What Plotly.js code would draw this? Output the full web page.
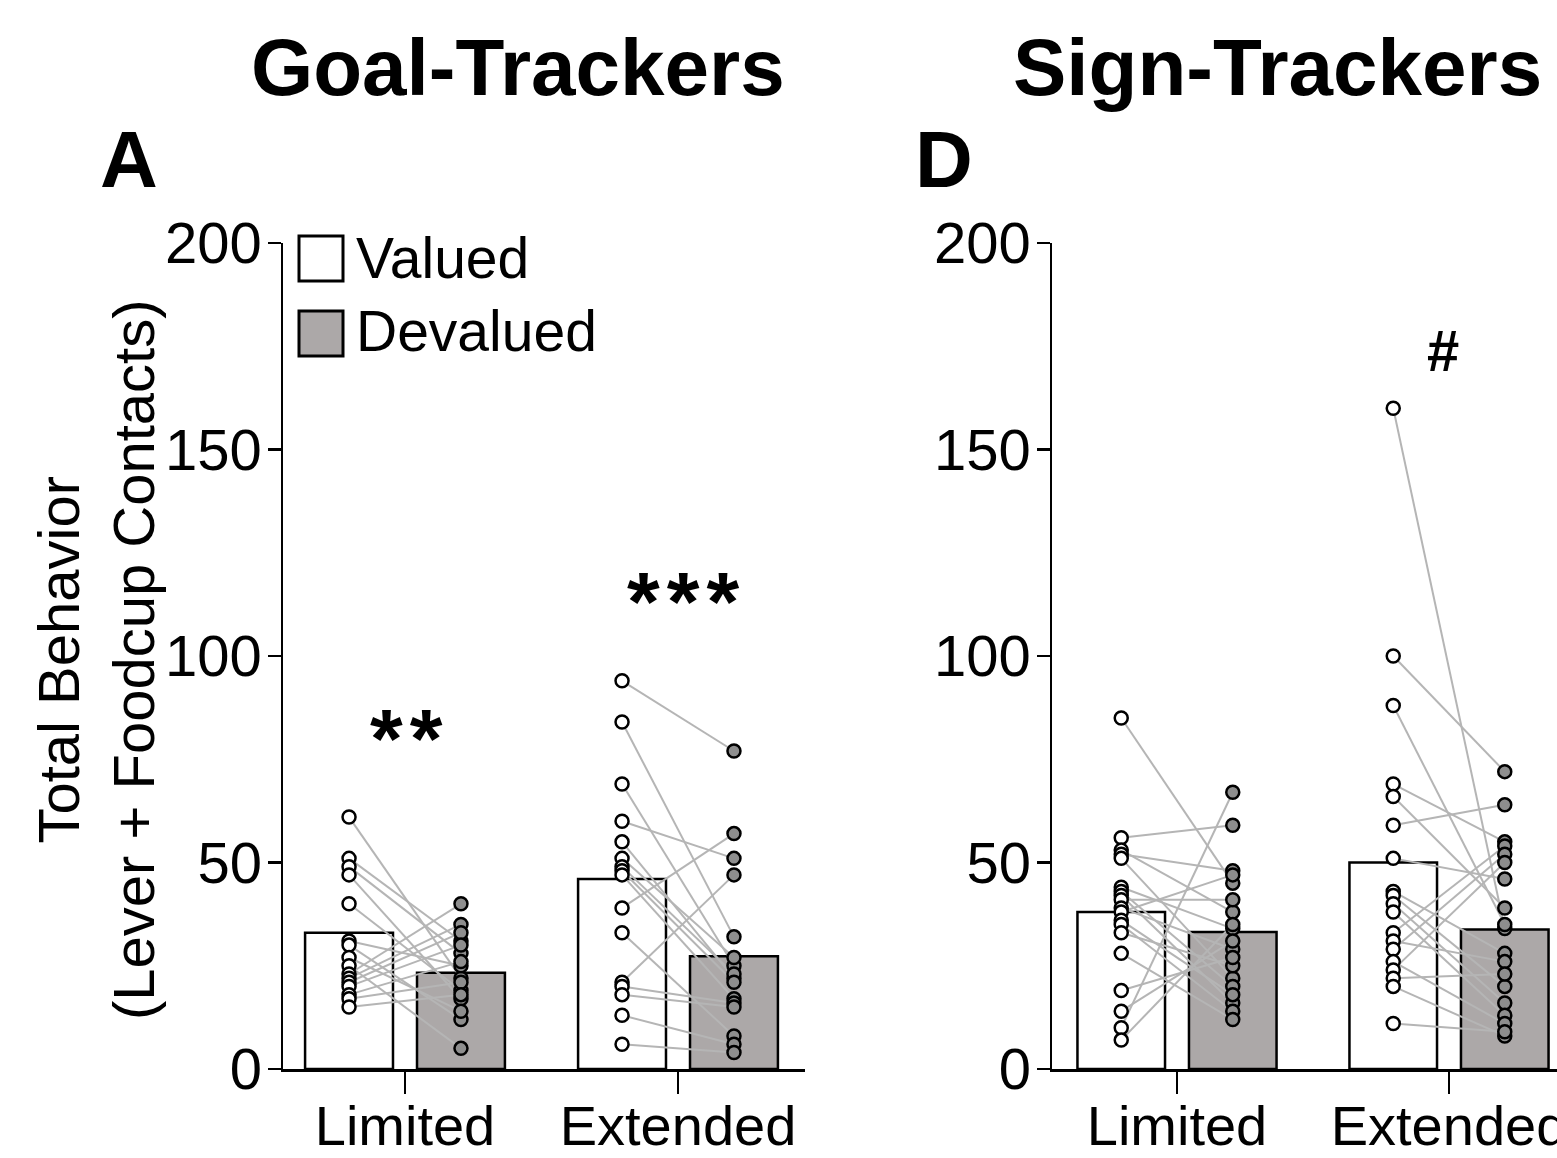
<!DOCTYPE html>
<html><head><meta charset="utf-8">
<script src="https://cdn.plot.ly/plotly-3.0.1.min.js"></script>
<style>html,body{margin:0;padding:0;background:#fff}</style>
</head><body><div id="chart" style="width:1557px;height:1158px"></div>
<script>
// ---------------- DATA ----------------
const categories = ["Limited", "Extended"];
const conditions = ["Valued", "Devalued"];
const yTickVals = [0, 50, 100, 150, 200];
const panelTitles = ["Goal-Trackers", "Sign-Trackers"];
const panelLetters = ["A", "D"];
const yTitle = "Total Behavior<br>(Lever + Foodcup Contacts)";

// bar means (Limited, Extended)
const gtValuedMean   = [33, 46];
const gtDevaluedMean = [23.3, 27.3];
const stValuedMean   = [38, 50];
const stDevaluedMean = [33.2, 33.8];

// individual subjects (paired valued -> devalued)
const gtLimitedValued    = [61, 51, 49, 47, 40, 31, 30, 27, 25, 23, 22, 21, 20, 18, 17, 15];
const gtLimitedDevalued  = [22, 31, 28, 17, 19, 25, 12, 14, 5, 40, 35, 33, 30, 26, 21, 18];
const gtExtendedValued   = [94, 84, 69, 60, 55, 51, 49, 48, 47, 39, 33, 21, 20, 18, 13, 6];
const gtExtendedDevalued = [77, 32, 25, 51, 22, 27, 23, 21, 17, 57, 8, 47, 16, 15, 6, 4];
const stLimitedValued    = [85, 56, 53, 52, 51, 44, 43, 42, 41, 39, 38, 36, 35, 33, 28, 19, 14, 10, 7];
const stLimitedDevalued  = [45, 59, 38, 48, 22, 34, 20, 16, 41, 29, 47, 18, 14, 25, 12, 27, 31, 67, 35];
const stExtendedValued   = [160, 100, 88, 69, 66, 59, 51, 43, 42, 40, 38, 33, 31, 29, 26, 24, 22, 20, 11];
const stExtendedDevalued = [34, 72, 35, 55, 39, 64, 46, 28, 20, 16, 13, 54, 26, 52, 11, 50, 23, 8, 9];

// significance marks per category
const gtSigText = ["**", "***"];
const gtSigY    = [80, 113];
const stSigText = ["", "#"];
const stSigY    = [null, 174];

// ---------------- STYLE ----------------
const FONT = "Liberation Sans, Arial, Helvetica, sans-serif";
const W = 1557, H = 1158;
const PLOT_TOP = 243, PLOT_BOT = 1069;
const OFF = 0.205, BW = 0.322;
const valuedFill = "#ffffff", devaluedFill = "#aca8a8", devaluedDot = "#8e8e8e";
const lineGray = "#b5b5b5";
const catPos = categories.map((c, i) => i + 1);
const sigShift = [0.005, 0.02];   // small horizontal nudges of the marks (layout)
const stSigShift = [0, -0.022];

function px2paperX(p) { return p / W; }
function px2paperY(p) { return (PLOT_BOT - p) / (PLOT_BOT - PLOT_TOP); }

const traces = [];
function addPanel(xa, ya, vMean, dMean, subjV, subjD) {
  traces.push({
    type: "bar", x: catPos, y: vMean, xaxis: xa, yaxis: ya, name: conditions[0],
    offset: -OFF - BW / 2, width: BW, showlegend: false,
    marker: {color: valuedFill, line: {color: "#000", width: 2.5}}
  });
  traces.push({
    type: "bar", x: catPos, y: dMean, xaxis: xa, yaxis: ya, name: conditions[1],
    offset: OFF - BW / 2, width: BW, showlegend: false,
    marker: {color: devaluedFill, line: {color: "#000", width: 2.5}}
  });
  const lx = [], ly = [];
  const vx = [], vy = [], dx = [], dy = [];
  catPos.forEach((c, ci) => {
    subjV[ci].forEach((v, k) => {
      const d = subjD[ci][k];
      lx.push(c - OFF, c + OFF, null); ly.push(v, d, null);
      vx.push(c - OFF); vy.push(v);
      dx.push(c + OFF); dy.push(d);
    });
  });
  traces.push({type: "scatter", mode: "lines", x: lx, y: ly, xaxis: xa, yaxis: ya,
    showlegend: false, hoverinfo: "skip", line: {color: lineGray, width: 2}, cliponaxis: false});
  traces.push({type: "scatter", mode: "markers", x: vx, y: vy, xaxis: xa, yaxis: ya,
    name: conditions[0] + " subjects", showlegend: false, cliponaxis: false,
    marker: {symbol: "circle", size: 13, color: valuedFill, line: {color: "#000", width: 2.5}}});
  traces.push({type: "scatter", mode: "markers", x: dx, y: dy, xaxis: xa, yaxis: ya,
    name: conditions[1] + " subjects", showlegend: false, cliponaxis: false,
    marker: {symbol: "circle", size: 13, color: devaluedDot, line: {color: "#000", width: 2.5}}});
}
addPanel("x", "y", gtValuedMean, gtDevaluedMean,
  [gtLimitedValued, gtExtendedValued], [gtLimitedDevalued, gtExtendedDevalued]);
addPanel("x2", "y2", stValuedMean, stDevaluedMean,
  [stLimitedValued, stExtendedValued], [stLimitedDevalued, stExtendedDevalued]);

function xAxis(domain, range) {
  return {domain: domain, range: range, showline: true, linecolor: "#000", linewidth: 2.5,
    tickmode: "array", tickvals: catPos, ticktext: categories, ticks: "outside",
    ticklen: 22, tickwidth: 2.5, tickcolor: "#000",
    tickfont: {family: FONT, size: 56, color: "#000"},
    ticklabelstandoff: -16, ticklabeloverflow: "allow",
    showgrid: false, zeroline: false, fixedrange: true};
}
function yAxis(anchor) {
  return {domain: [0, 1], range: [0, 200], anchor: anchor, showline: true, linecolor: "#000",
    linewidth: 2.5, tickmode: "array", tickvals: yTickVals, ticks: "outside", ticklen: 13,
    tickwidth: 2.5, tickcolor: "#000", tickfont: {family: FONT, size: 58, color: "#000"},
    ticklabelstandoff: -6, ticklabeloverflow: "allow",
    showgrid: false, zeroline: false, fixedrange: true};
}

const annotations = [];
// panel titles & letters
annotations.push({xref: "paper", yref: "paper", x: px2paperX(518), y: px2paperY(68), text: "<b>" + panelTitles[0] + "</b>",
  showarrow: false, font: {family: FONT, size: 80, color: "#000"}, xanchor: "center", yanchor: "middle"});
annotations.push({xref: "paper", yref: "paper", x: px2paperX(1277), y: px2paperY(68), text: "<b>" + panelTitles[1] + "</b>",
  showarrow: false, font: {family: FONT, size: 80, color: "#000"}, xanchor: "center", yanchor: "middle"});
annotations.push({xref: "paper", yref: "paper", x: px2paperX(129), y: px2paperY(160), text: "<b>" + panelLetters[0] + "</b>",
  showarrow: false, font: {family: FONT, size: 80, color: "#000"}, xanchor: "center", yanchor: "middle"});
annotations.push({xref: "paper", yref: "paper", x: px2paperX(944), y: px2paperY(160), text: "<b>" + panelLetters[1] + "</b>",
  showarrow: false, font: {family: FONT, size: 80, color: "#000"}, xanchor: "center", yanchor: "middle"});
// y title
annotations.push({xref: "paper", yref: "paper", x: px2paperX(96), y: px2paperY(660), text: yTitle, textangle: -90,
  showarrow: false, font: {family: FONT, size: 58, color: "#000"}, xanchor: "center", yanchor: "middle"});
// legend
annotations.push({xref: "paper", yref: "paper", x: px2paperX(354), y: px2paperY(258), text: conditions[0],
  showarrow: false, font: {family: FONT, size: 57, color: "#000"}, xanchor: "left", yanchor: "middle"});
annotations.push({xref: "paper", yref: "paper", x: px2paperX(354), y: px2paperY(331), text: conditions[1],
  showarrow: false, font: {family: FONT, size: 57, color: "#000"}, xanchor: "left", yanchor: "middle"});
// significance
const HAIR = "\u200A";
catPos.forEach((c, i) => {
  if (gtSigText[i]) annotations.push({xref: "x", yref: "y", x: c + sigShift[i], y: gtSigY[i],
    text: "<b>" + gtSigText[i].split("").join(HAIR) + "</b>",
    showarrow: false, font: {family: FONT, size: 84, color: "#000"}, xanchor: "center", yanchor: "middle"});
  if (stSigText[i]) annotations.push({xref: "x2", yref: "y2", x: c + stSigShift[i], y: stSigY[i], text: "<b>" + stSigText[i] + "</b>",
    showarrow: false, font: {family: FONT, size: 58, color: "#000"}, xanchor: "center", yanchor: "middle"});
});

const shapes = [
  {type: "rect", xref: "paper", yref: "paper", x0: px2paperX(299), x1: px2paperX(343), y0: px2paperY(236), y1: px2paperY(281),
    line: {color: "#000", width: 3}, fillcolor: valuedFill},
  {type: "rect", xref: "paper", yref: "paper", x0: px2paperX(299), x1: px2paperX(343), y0: px2paperY(311), y1: px2paperY(356),
    line: {color: "#000", width: 3}, fillcolor: devaluedFill}
];

const layout = {
  width: W, height: H,
  margin: {l: 0, r: 0, t: PLOT_TOP, b: H - PLOT_BOT, pad: 0},
  paper_bgcolor: "#fff", plot_bgcolor: "rgba(0,0,0,0)",
  font: {family: FONT, color: "#000"},
  showlegend: false, barmode: "overlay",
  xaxis: xAxis([px2paperX(283), px2paperX(805)], [1 - 122 / 273, 2 + 127 / 273]),
  yaxis: yAxis("x"),
  xaxis2: xAxis([px2paperX(1052), 1], [1 - 125 / 272, 2 + 108 / 272]),
  yaxis2: yAxis("x2"),
  annotations: annotations, shapes: shapes
};
layout.xaxis.anchor = "y";
layout.xaxis2.anchor = "y2";

Plotly.newPlot("chart", traces, layout, {displayModeBar: false, staticPlot: true});
</script></body></html>
